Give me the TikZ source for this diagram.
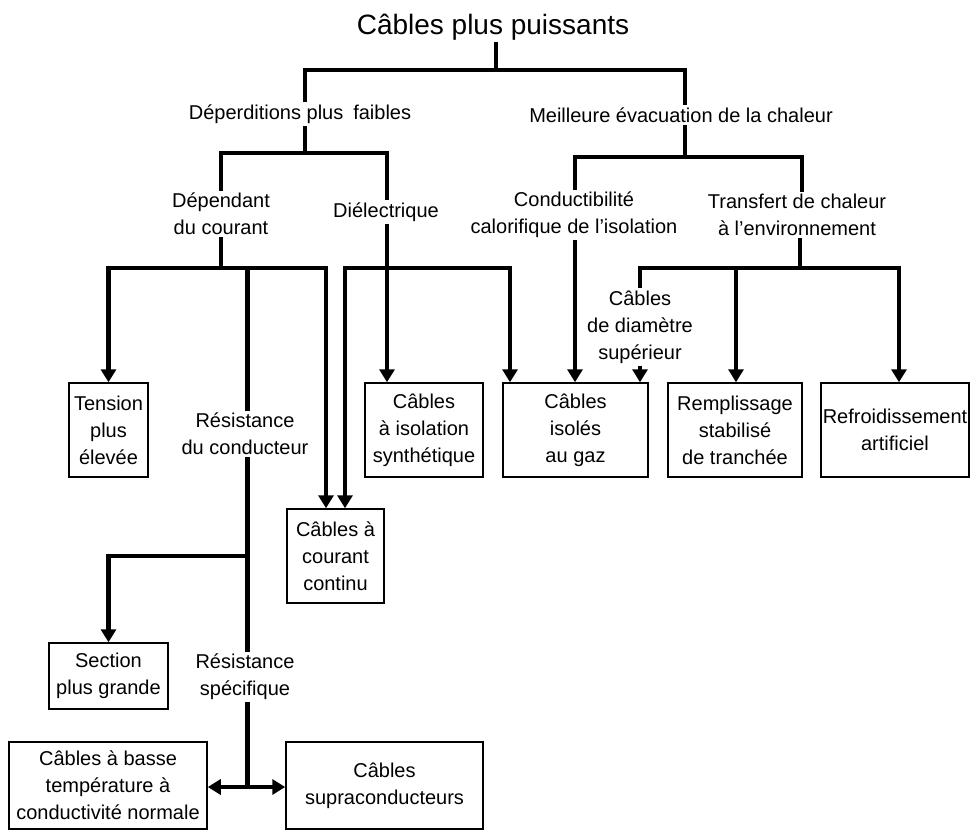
\documentclass[tikz,border=0pt]{standalone}
\usepackage{fontspec}
\setmainfont{Liberation Sans}
\usetikzlibrary{arrows.meta}
\begin{document}
\begin{tikzpicture}[x=1pt,y=-1pt,
  conn/.style={line width=4.5pt},
  arr/.style={-{Triangle[width=15pt,length=13pt]}},
  dbl/.style={{Triangle[width=15pt,length=13pt]}-{Triangle[width=15pt,length=13pt]}},
  lbl/.style={align=center,inner sep=2pt,font=\fontsize{20}{27}\selectfont},
  box/.style={draw,line width=1.5pt,align=center,inner sep=0pt,font=\fontsize{20}{27}\selectfont},
]
\useasboundingbox (0,0) rectangle (971,831);
\fill[white] (0,0) rectangle (971,831);

% text labels
\node[lbl,font=\fontsize{28}{34}\selectfont] (t) at (493,27) {Câbles plus puissants};
\node[lbl] (dep) at (300,114) {Déperditions plus\hspace{10pt}faibles};
\node[lbl] (mei) at (681,115) {Meilleure évacuation de la chaleur};
\node[lbl] (depc) at (221,214) {Dépendant\\du courant};
\node[lbl] (diel) at (386,212) {Diélectrique};
\node[lbl] (cond) at (574,215) {Conductibilité\\calorifique de l’isolation};
\node[lbl] (trans) at (797,215) {Transfert de chaleur\\à l’environnement};
\node[lbl] (diam) at (640,327) {Câbles\\de diamètre\\supérieur};
\node[lbl] (resc) at (245,434) {Résistance\\du conducteur};
\node[lbl] (ress) at (245,677) {Résistance\\spécifique};

% boxes
\node[box,minimum width=79pt,minimum height=94pt] (tension) at (108.5,430) {Tension\\plus\\élevée};
\node[box,minimum width=118pt,minimum height=94pt] (synth) at (424,430) {Câbles\\à isolation\\synthétique};
\node[box,minimum width=145pt,minimum height=94pt] (gaz) at (575.5,430) {Câbles\\isolés\\au gaz};
\node[box,minimum width=134pt,minimum height=94pt] (rempl) at (735,430) {Remplissage\\stabilisé\\de tranchée};
\node[box,minimum width=148pt,minimum height=94pt] (refr) at (895,430) {Refroidissement\\artificiel};
\node[box,minimum width=97pt,minimum height=94pt] (dc) at (335.5,556) {Câbles à\\courant\\continu};
\node[box,minimum width=119pt,minimum height=66pt] (sect) at (108.5,676) {Section\\plus grande};
\node[box,minimum width=198pt,minimum height=87pt] (basse) at (108,785.5) {Câbles à basse\\température à\\conductivité normale};
\node[box,minimum width=197pt,minimum height=87pt] (supra) at (384.5,785.5) {Câbles\\supraconducteurs};

% junctions
\coordinate (j0) at (496,70);
\coordinate (a1) at (305,70);
\coordinate (a2) at (685,70);
\coordinate (b0) at (305,153);
\coordinate (b1) at (221,153);
\coordinate (b2) at (387,153);
\coordinate (c0) at (685,157);
\coordinate (c1) at (575,157);
\coordinate (c2) at (802,157);
\coordinate (d0) at (221,268);
\coordinate (d1) at (108.5,268);
\coordinate (d2) at (247.5,268);
\coordinate (d3) at (326,268);
\coordinate (e0) at (387,268);
\coordinate (e1) at (345,268);
\coordinate (e3) at (510,268);
\coordinate (f0) at (800,268);
\coordinate (f1) at (640,268);
\coordinate (f2) at (736,268);
\coordinate (f3) at (899,268);
\coordinate (g0) at (247.5,556);
\coordinate (h0) at (247.5,787);

% connectors
\draw[conn] (t.south -| j0) -- (j0);
\draw[conn] (dep.north -| a1) -- (a1) -- (a2) -- (mei.north -| a2);
\draw[conn] (dep.south -| b0) -- (b0);
\draw[conn] (depc.north -| b1) -- (b1) -- (b2) -- (diel.north -| b2);
\draw[conn] (mei.south -| c0) -- (c0);
\draw[conn] (cond.north -| c1) -- (c1) -- (c2) -- (trans.north -| c2);

\draw[conn] (depc.south -| d0) -- (d0);
\draw[conn,dbl] (tension.north -| d1) -- (d1) -- (d3) -- (dc.north -| d3);
\draw[conn] (d2) -- (resc.north -| d2);

\draw[conn,dbl] (dc.north -| e1) -- (e1) -- (e3) -- (gaz.north -| e3);
\draw[conn,arr] (diel.south -| e0) -- (synth.north -| e0);

\draw[conn,arr] (cond.south -| c1) -- (gaz.north -| c1);

\draw[conn] (trans.south -| f0) -- (f0);
\draw[conn,arr] (diam.north -| f1) -- (f1) -- (f3) -- (refr.north -| f3);
\draw[conn,arr] (f2) -- (rempl.north -| f2);
\draw[conn,arr] (diam.south) -- (gaz.north -| diam.south);

\draw[conn] (resc.south -| g0) -- (ress.north -| g0);
\draw[conn,arr] (g0) -| (sect.north);
\draw[conn] (ress.south -| h0) -- (h0);
\draw[conn,dbl] (basse.east |- h0) -- (supra.west |- h0);
\end{tikzpicture}
\end{document}
